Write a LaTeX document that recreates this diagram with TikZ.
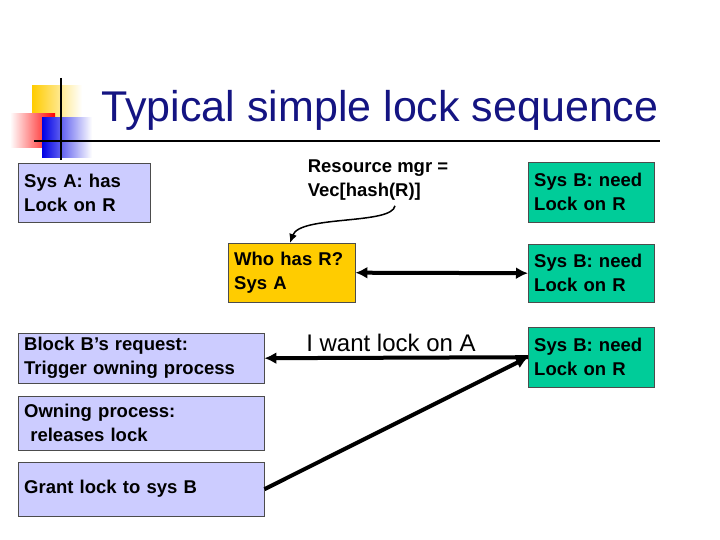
\documentclass[tikz,border=0pt]{standalone}
\usepackage{fontspec}
\setmainfont{Liberation Sans}
\usetikzlibrary{arrows.meta}
\definecolor{lav}{RGB}{204,204,255}
\definecolor{grn}{RGB}{0,204,153}
\definecolor{ylw}{RGB}{255,204,0}
\definecolor{navy}{RGB}{20,20,130}
\tikzset{
box/.style={draw=black!70, anchor=north west, inner xsep=6pt, inner ysep=0pt, align=left, font=\fontsize{18.5}{24}\selectfont\bfseries},
link/.style={line width=4pt, -{Latex[length=12pt,width=12pt]}}
}
\begin{document}
\begin{tikzpicture}[x=1pt,y=-1pt]
    \useasboundingbox (0,0) rectangle (720,540);
    % logo
    \shade[left color=ylw, right color=white] (32,86) rectangle (82,118);
    \shade[left color=white, right color=red] (10,114) rectangle (55,148);
    \shade[left color=blue!90!black, right color=white] (42,118) rectangle (92,158);
    \draw[line width=2pt] (61,78) -- (61,160);
    \draw[line width=2pt] (34,141) -- (660,141);
    \node[navy, font=\fontsize{43}{45}\selectfont] (title) at (380,110) {Typical simple lock sequence};
    
    \node[box, fill=lav, text width=120pt, minimum height=59pt] (A) at (18,163) {Sys A: has\\Lock on R};
    \node[font=\fontsize{18.5}{24}\selectfont\bfseries, align=left] (mgr) at (378,180) {Resource mgr =\\Vec[hash(R)]};
    \node[box, fill=ylw, text width=115pt, minimum height=59pt] (who) at (228,243) {Who has R?\\Sys A};
    \node[box, fill=grn, text width=114pt, minimum height=60pt] (B1) at (528,162) {Sys B: need\\Lock on R};
    \node[box, fill=grn, text width=114pt, minimum height=58pt] (B2) at (528,244) {Sys B: need\\Lock on R};
    \node[box, fill=grn, text width=114pt, minimum height=60pt] (B3) at (528,327) {Sys B: need\\Lock on R};
    \node[box, fill=lav, text width=234pt, minimum height=50pt] (blk) at (18,333) {Block B’s request:\\Trigger owning process};
    \node[box, fill=lav, text width=234pt, minimum height=54pt] (own) at (18,396) {Owning process:\\\ releases lock};
    \node[box, fill=lav, text width=234pt, minimum height=54pt] (grant) at (18,462) {Grant lock to sys B};
    \node[font=\fontsize{24}{26}\selectfont] (want) at (391,343) {I want lock on A};
    
    \draw[line width=1.5pt, -{Latex[length=9pt,width=8pt]}] (mgr.south) ++(17,2) coordinate (m1) (m1) .. controls (392,225) and (300,215) .. (who.north west -| 290,243);
    \draw[link, {Latex[length=12pt,width=12pt]}-{Latex[length=12pt,width=12pt]}] (who.east) -- (B2.west);
    \draw[link] (B3.west) -- (blk.east);
    \draw[link] (grant.east) -- (B3.west);
\end{tikzpicture}
\end{document}
